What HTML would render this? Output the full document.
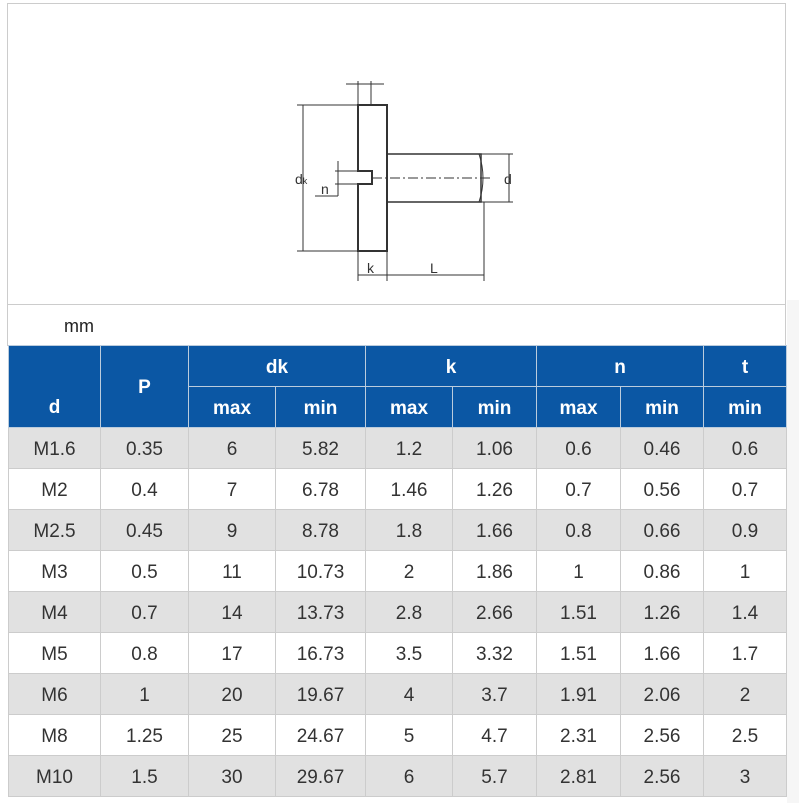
<!DOCTYPE html>
<html><head><meta charset="utf-8"><style>
body{margin:0;background:#fff;width:799px;height:803px;position:relative;overflow:hidden;font-family:"Liberation Sans",Arial,sans-serif;}
#frame{position:absolute;left:7px;top:3px;width:779px;height:301px;border:1px solid #ccc;border-bottom:none;box-sizing:border-box;}
#mm{position:absolute;left:7px;top:304px;width:779px;height:42px;border:1px solid #ccc;box-sizing:border-box;font-size:18px;color:#222;padding:11px 0 0 56px;}
table{position:absolute;left:8px;top:345px;border-collapse:collapse;table-layout:fixed;}
td{border:1px solid #ccc;text-align:center;font-size:19px;color:#333;padding:3px 0 0 0;height:37px;}
tr.h td{background:#0b57a4;color:#fff;font-weight:bold;border-color:#bcd;font-size:19px;}
tr.g td{background:#e1e1e1;}
#side{position:absolute;left:787px;top:300px;width:12px;height:503px;background:#f6f6f6;}
</style></head><body>
<div id="side"></div>
<div id="frame">
<svg width="779" height="301" viewBox="7 3 779 301" style="position:absolute;left:0;top:0">
<g fill="none" stroke="#333" stroke-width="1">
<path d="M357 104 H386 V250 H357 V183 H371 V170 H357 Z" stroke-width="2"/>
<path d="M386 153 H480 V201 H386" stroke-width="1.5"/>
<path d="M478 153 Q486 177 478 201" />
<path d="M371 177 H492" stroke-dasharray="10,3,2,3"/>
<path d="M480 153 H512 M480 201 H512 M508 153 V201"/>
<path d="M296 104 H357 M296 250 H357 M302 104 V250"/>
<path d="M357 80 V104 M370 80 V104 M345 83 H383"/>
<path d="M357 250 V280 M386 250 V280 M483 201 V280 M357 274 H483"/>
<path d="M337 160 V195 M314 195 H337 M334 170 H357 M334 183 H357"/>
</g>
<g font-size="14" fill="#333" font-family="Liberation Sans,sans-serif">
<text x="294" y="183">d<tspan font-size="9">k</tspan></text>
<text x="320" y="193">n</text>
<text x="503" y="183">d</text>
<text x="366" y="272">k</text>
<text x="429" y="272">L</text>
</g>
</svg>
</div>
<div id="mm">mm</div>
<table>
<colgroup><col style="width:92px"><col style="width:88px"><col style="width:87px"><col style="width:90px"><col style="width:87px"><col style="width:84px"><col style="width:84px"><col style="width:83px"><col style="width:83px"></colgroup>
<tr class="h"><td rowspan="2" style="vertical-align:bottom;padding-bottom:8px">d</td><td rowspan="2">P</td><td colspan="2">dk</td><td colspan="2">k</td><td colspan="2">n</td><td>t</td></tr>
<tr class="h"><td>max</td><td>min</td><td>max</td><td>min</td><td>max</td><td>min</td><td>min</td></tr>
<tr class="g"><td>M1.6</td><td>0.35</td><td>6</td><td>5.82</td><td>1.2</td><td>1.06</td><td>0.6</td><td>0.46</td><td>0.6</td></tr>
<tr><td>M2</td><td>0.4</td><td>7</td><td>6.78</td><td>1.46</td><td>1.26</td><td>0.7</td><td>0.56</td><td>0.7</td></tr>
<tr class="g"><td>M2.5</td><td>0.45</td><td>9</td><td>8.78</td><td>1.8</td><td>1.66</td><td>0.8</td><td>0.66</td><td>0.9</td></tr>
<tr><td>M3</td><td>0.5</td><td>11</td><td>10.73</td><td>2</td><td>1.86</td><td>1</td><td>0.86</td><td>1</td></tr>
<tr class="g"><td>M4</td><td>0.7</td><td>14</td><td>13.73</td><td>2.8</td><td>2.66</td><td>1.51</td><td>1.26</td><td>1.4</td></tr>
<tr><td>M5</td><td>0.8</td><td>17</td><td>16.73</td><td>3.5</td><td>3.32</td><td>1.51</td><td>1.66</td><td>1.7</td></tr>
<tr class="g"><td>M6</td><td>1</td><td>20</td><td>19.67</td><td>4</td><td>3.7</td><td>1.91</td><td>2.06</td><td>2</td></tr>
<tr><td>M8</td><td>1.25</td><td>25</td><td>24.67</td><td>5</td><td>4.7</td><td>2.31</td><td>2.56</td><td>2.5</td></tr>
<tr class="g"><td>M10</td><td>1.5</td><td>30</td><td>29.67</td><td>6</td><td>5.7</td><td>2.81</td><td>2.56</td><td>3</td></tr>
</table>
</body></html>
